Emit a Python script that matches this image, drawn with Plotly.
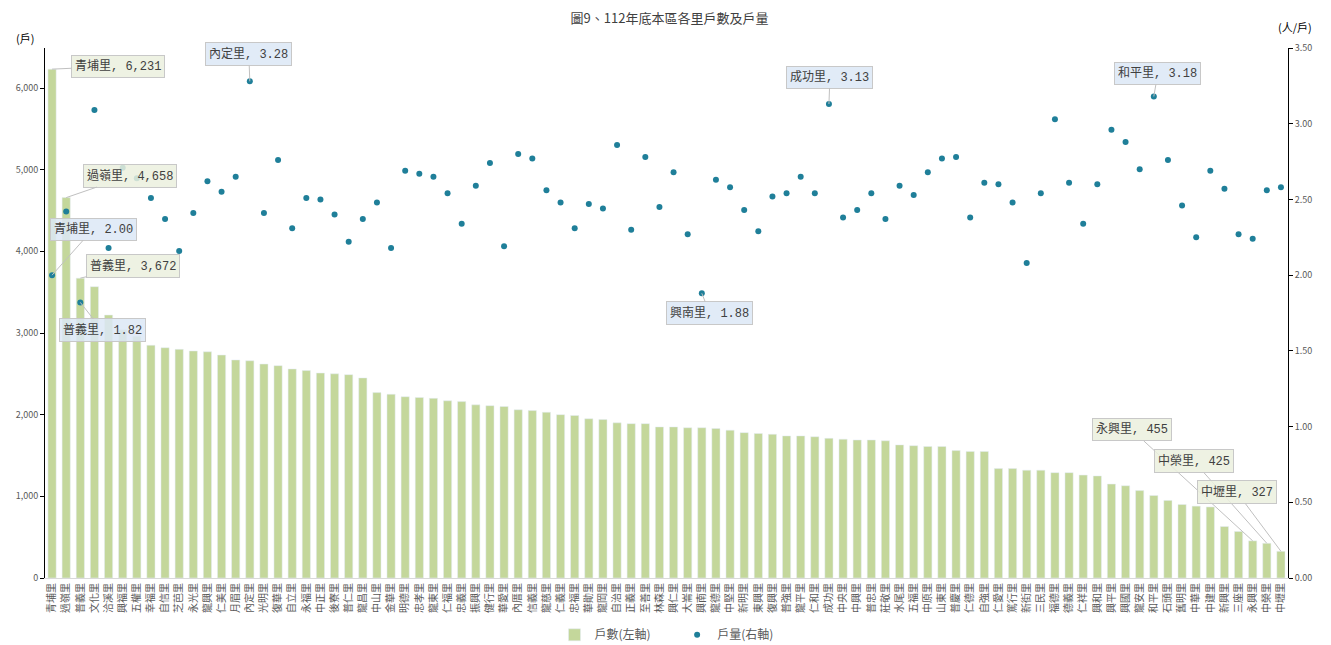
import plotly.graph_objects as go

FONT = "Noto Sans CJK TC"
LABEL_FONT = "Liberation Mono, Noto Sans CJK TC"

villages = [
    "青埔里", "過嶺里", "普義里", "文化里", "洽溪里", "興福里", "五權里", "幸福里",
    "自信里", "芝芭里", "永光里", "龍興里", "仁美里", "月眉里", "內定里", "光明里",
    "復華里", "自立里", "永福里", "中正里", "後寮里", "普仁里", "龍昌里", "中山里",
    "金華里", "明德里", "忠孝里", "龍東里", "仁福里", "忠義里", "振興里", "健行里",
    "華愛里", "內厝里", "信義里", "龍慈里", "仁義里", "忠福里", "華勛里", "龍岡里",
    "自治里", "正義里", "至善里", "林森里", "興仁里", "大崙里", "興南里", "龍德里",
    "中堅里", "新明里", "東興里", "復興里", "普強里", "龍平里", "仁和里", "成功里",
    "中央里", "中興里", "普忠里", "莊敬里", "水尾里", "五福里", "中原里", "山東里",
    "普慶里", "仁德里", "自強里", "仁愛里", "篤行里", "新街里", "三民里", "福德里",
    "德義里", "仁祥里", "興和里", "興平里", "興國里", "龍安里", "和平里", "石頭里",
    "舊明里", "中華里", "中建里", "新興里", "三座里", "永興里", "中榮里", "中壢里",
]

households = [
    6231, 4658, 3672, 3567, 3220, 3040, 2960, 2850, 2820, 2800, 2780, 2770,
    2730, 2670, 2660, 2620, 2600, 2560, 2540, 2510, 2500, 2490, 2450, 2270,
    2250, 2220, 2210, 2200, 2170, 2160, 2120, 2110, 2100, 2060, 2050, 2030,
    2000, 1990, 1950, 1940, 1900, 1890, 1890, 1850, 1850, 1840, 1840, 1830,
    1810, 1780, 1770, 1760, 1740, 1740, 1730, 1710, 1700, 1690, 1690, 1680,
    1630, 1620, 1610, 1610, 1560, 1550, 1550, 1340, 1340, 1320, 1320, 1290,
    1290, 1260, 1250, 1150, 1130, 1070, 1010, 950, 900, 880, 870, 630,
    570, 455, 425, 327,
]

hh_size = [
    2.00, 2.42, 1.82, 3.09, 2.18, 2.71, 2.64, 2.51, 2.37, 2.16, 2.41, 2.62,
    2.55, 2.65, 3.28, 2.41, 2.76, 2.31, 2.51, 2.50, 2.40, 2.22, 2.37, 2.48,
    2.18, 2.69, 2.67, 2.65, 2.54, 2.34, 2.59, 2.74, 2.19, 2.80, 2.77, 2.56,
    2.48, 2.31, 2.47, 2.44, 2.86, 2.30, 2.78, 2.45, 2.68, 2.27, 1.88, 2.63,
    2.58, 2.43, 2.29, 2.52, 2.54, 2.65, 2.54, 3.13, 2.38, 2.43, 2.54, 2.37,
    2.59, 2.53, 2.68, 2.77, 2.78, 2.38, 2.61, 2.60, 2.48, 2.08, 2.54, 3.03,
    2.61, 2.34, 2.60, 2.96, 2.88, 2.70, 3.18, 2.76, 2.46, 2.25, 2.69, 2.57,
    2.27, 2.24, 2.56, 2.58,
]

# labelled points: village -> (ax, ay) pixel offset of the callout box
bar_callouts = {"青埔里": (66, -3), "過嶺里": (64, -22), "普義里": (53, -12),
                "永興里": (-121, -111), "中榮里": (-73, -82), "中壢里": (-44, -59)}
dot_callouts = {"青埔里": (41, -46), "普義里": (22, 28), "內定里": (-1, -27),
                "興南里": (8, 20), "成功里": (1, -27), "和平里": (4, -23)}

fig = go.Figure()

fig.add_trace(go.Bar(
    x=villages, y=households, name="戶數(左軸)        ",
    marker=dict(color="#c4d79b"), yaxis="y",
))
fig.add_trace(go.Scatter(
    x=villages, y=hh_size, name="戶量(右軸)", mode="markers",
    marker=dict(color="#1f7f99", size=6), yaxis="y2",
))

for name, (ax, ay) in bar_callouts.items():
    v = households[villages.index(name)]
    fig.add_annotation(
        x=name, y=v, yref="y", text=f"{name}, {v:,}", ax=ax, ay=ay,
        showarrow=True, arrowhead=0, arrowwidth=1, arrowcolor="#c0c0c0",
        bgcolor="rgba(235,240,222,0.85)", bordercolor="#c8c8c8", borderwidth=1,
        borderpad=3, font=dict(family=LABEL_FONT, size=12, color="#404040"),
    )
for name, (ax, ay) in dot_callouts.items():
    v = hh_size[villages.index(name)]
    fig.add_annotation(
        x=name, y=v, yref="y2", text=f"{name}, {v:.2f}", ax=ax, ay=ay,
        showarrow=True, arrowhead=0, arrowwidth=1, arrowcolor="#c0c0c0",
        bgcolor="rgba(220,232,246,0.85)", bordercolor="#c8c8c8", borderwidth=1,
        borderpad=3, font=dict(family=LABEL_FONT, size=12, color="#404040"),
    )

fig.add_annotation(text="(戶)", xref="paper", yref="paper", x=-0.016, y=1.019,
                   xanchor="center", yanchor="middle", showarrow=False,
                   font=dict(family=FONT, size=11, color="#000"))
fig.add_annotation(text="(人/戶)", xref="paper", yref="paper", x=1.006, y=1.04,
                   xanchor="center", yanchor="middle", showarrow=False,
                   font=dict(family=FONT, size=11, color="#000"))

# the page body adds an 8px margin, so the figure is 8px smaller each way
fig.update_layout(
    width=1323, height=637,
    margin=dict(l=37, r=43, t=40, b=67),
    paper_bgcolor="white", plot_bgcolor="white",
    font=dict(family=FONT, color="#595959"),
    title=dict(text="圖9、112年底本區各里戶數及戶量", x=0.5, y=0.984, yanchor="middle",
               xanchor="center", font=dict(family=FONT, size=13, color="#404040")),
    bargap=0.42,
    showlegend=True,
    legend=dict(orientation="h", x=0.5, xanchor="center",
                yref="container", y=0.016, yanchor="middle",
                font=dict(family=FONT, size=12, color="#595959"), itemwidth=30),
    xaxis=dict(
        range=[-0.5, len(villages) - 0.5],
        tickangle=-90, tickfont=dict(family=FONT, size=10, color="#595959"),
        showline=True, linecolor="#d9d9d9", ticks="", showgrid=False,
        automargin=False,
    ),
    yaxis=dict(
        range=[0, 6490], tickvals=[0, 1000, 2000, 3000, 4000, 5000, 6000],
        tickformat=",", showgrid=False, showline=True, linecolor="#000",
        ticks="outside", ticklen=4, tickcolor="#000", zeroline=False,
        tickfont=dict(size=9, color="#595959"), automargin=False,
    ),
    yaxis2=dict(
        overlaying="y", side="right", range=[0, 3.5], dtick=0.5,
        tickformat=".2f", showgrid=False, showline=True, linecolor="#000",
        ticks="outside", ticklen=4, tickcolor="#000", zeroline=False,
        tickfont=dict(size=9, color="#595959"), automargin=False,
    ),
)

fig.write_html("out.html")
